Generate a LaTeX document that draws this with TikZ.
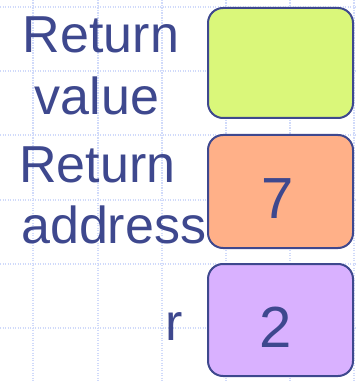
\documentclass[tikz,border=0pt]{standalone}
\usepackage{fontspec}
\setmainfont{Liberation Sans}
\definecolor{gridc}{RGB}{208,218,250}
\definecolor{ink}{RGB}{62,72,142}
\definecolor{limef}{RGB}{218,247,122}
\definecolor{orangef}{RGB}{255,176,136}
\definecolor{lavf}{RGB}{217,177,255}
\tikzset{
  gridline/.style={gridc, line width=1.6pt, dash pattern=on 1.2pt off 1.3pt},
  cell/.style={draw=ink, line width=2pt, rounded corners=15pt},
  lbl/.style={inner sep=0pt, text=ink, font=\fontsize{52}{52}\selectfont},
  val/.style={inner sep=0pt, text=ink, font=\fontsize{58}{58}\selectfont},
}
\begin{document}
\begin{tikzpicture}[x=1pt,y=-1pt]
\useasboundingbox (0,0) rectangle (357,382);
% background grid
\foreach \gy in {7,71,135,200,264,328} {
  \draw[gridline] (0,\gy) -- (357,\gy);
}
\foreach \gx in {33,98,162,226,290,354} {
  \draw[gridline] (\gx,0) -- (\gx,382);
}
% boxes
\filldraw[cell, fill=limef] (208,8) rectangle (353,118);
\filldraw[cell, fill=orangef] (208,135) rectangle (353,248);
\filldraw[cell, fill=lavf] (208,264) rectangle (353,376);
% labels
\node[lbl, anchor=base] (rv1) at (101,53) {Return};
\node[lbl, anchor=base] (rv2) at (97,115) {value};
\node[lbl, anchor=base west] (ra1) at (19,182) {Return};
\node[lbl, anchor=base west] (ra2) at (21,243) {address};
\node[lbl, anchor=base west] (rr) at (165,340) {r};
% values
\node[val, anchor=base] (v7) at (278,218) {7};
\node[val, anchor=base] (v2) at (276,347) {2};
\end{tikzpicture}
\end{document}
